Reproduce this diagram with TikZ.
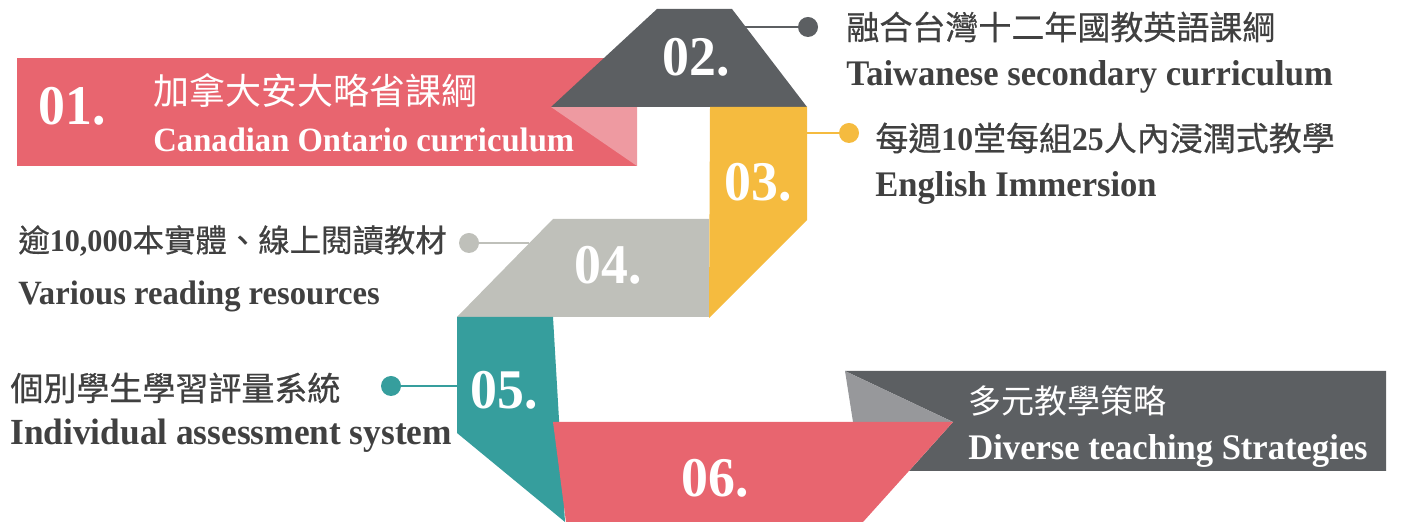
\documentclass[tikz,border=0pt]{standalone}
\usepackage{fontspec}
\usepackage{tikz}

\setmainfont{Liberation Serif}
\newfontfamily\enfont{Liberation Serif}[FakeStretch=0.96]
\newfontfamily\cjk{Noto Sans CJK TC}
\newfontfamily\cjkm{Noto Sans CJK TC}[FakeBold=0.6]
\newcommand{\dg}[1]{{\enfont\bfseries #1}}

\definecolor{ribbonred}{HTML}{E8656F}
\definecolor{ribbonpink}{HTML}{EE9AA1}
\definecolor{ribbondark}{HTML}{5C5F62}
\definecolor{ribbonyellow}{HTML}{F5BB3F}
\definecolor{ribbonlight}{HTML}{BFC0BA}
\definecolor{ribbonteal}{HTML}{369E9D}
\definecolor{foldgray}{HTML}{97989B}
\definecolor{textgray}{HTML}{404040}

\begin{document}
\begin{tikzpicture}[x=0.5pt, y=-0.5pt]
    \tikzstyle{num} = [text=white, inner sep=0pt, font=\enfont\bfseries\fontsize{28}{28}\selectfont]
    \tikzstyle{zh} = [anchor=west, inner sep=0pt, text=textgray, font=\cjkm\fontsize{16.5}{16.5}\selectfont]
    \tikzstyle{en} = [anchor=base west, inner sep=0pt, text=textgray, font=\enfont\bfseries\fontsize{18}{18}\selectfont]
    \tikzstyle{dot} = [circle, inner sep=0pt, minimum size=10pt]
    \tikzstyle{leader} = [line width=1pt]
    \useasboundingbox (0,0) rectangle (1408,522);

    % ribbon, back to front
    \fill[ribbonred] (17,58) rectangle (637,166);
    \fill[ribbonpink] (551,107) -- (637,107) -- (637,166) -- cycle;
    \fill[ribbondark] (551,107) -- (657,9) -- (732,9) -- (807,107) -- cycle;
    \fill[ribbonlight] (553,219) -- (709,219) -- (709,317) -- (457,317) -- cycle;
    \fill[ribbonyellow] (710,107) -- (807,107) -- (807,220) -- (709,318) -- cycle;
    \fill[ribbonteal] (457,317) -- (553,317) -- (565,522) -- (457,433) -- cycle;
    \fill[ribbondark] (845,371) -- (1386,371) -- (1386,471) -- (909,471) -- (953,422) -- cycle;
    \fill[foldgray] (845,371) -- (953,422) -- (853,422) -- cycle;
    \fill[ribbonred] (553,422) -- (953,422) -- (863,522) -- (566,522) -- cycle;

    % step numbers
    \node[num] (n1) at (72,106) {01.};
    \node[num] (n2) at (696,57) {02.};
    \node[num] (n3) at (758,182) {03.};
    \node[num] (n4) at (608,265) {04.};
    \node[num] (n5) at (504,390) {05.};
    \node[num] (n6) at (715,478) {06.};

    % leaders
    \coordinate (e2) at (745,27);
    \coordinate (e3) at (807,133);
    \coordinate (e4) at (529,243);
    \coordinate (e5) at (457,386);
    \node[dot, fill=ribbondark] (d2) at (808,27) {};
    \node[dot, fill=ribbonyellow] (d3) at (849,133) {};
    \node[dot, fill=ribbonlight] (d4) at (469,243) {};
    \node[dot, fill=ribbonteal] (d5) at (391,386) {};
    \draw[leader, ribbondark] (e2) -- (d2);
    \draw[leader, ribbonyellow] (e3) -- (d3);
    \draw[leader, ribbonlight] (e4) -- (d4);
    \draw[leader, ribbonteal] (e5) -- (d5);

    % labels
    \node[zh, text=white, font=\cjk\fontsize{18}{18}\selectfont] (z1) at (153,91) {加拿大安大略省課綱};
    \node[en, text=white, font=\enfont\bfseries\fontsize{17}{17}\selectfont] (l1) at (153,152) {Canadian Ontario curriculum};
    \node[zh] (z2) at (846,27) {融合台灣十二年國教英語課綱};
    \node[en] (l2) at (846,86) {Taiwanese secondary curriculum};
    \node[zh] (z3) at (875,138) {每週\dg{10}堂每組\dg{25}人內浸潤式教學};
    \node[en] (l3) at (875,197) {English Immersion};
    \node[zh, font=\cjkm\fontsize{15.7}{15.7}\selectfont] (z4) at (18,241) {逾\dg{10,000}本實體、線上閱讀教材};
    \node[en, font=\enfont\bfseries\fontsize{17}{17}\selectfont] (l4) at (18,305) {Various reading resources};
    \node[zh] (z5) at (10,388) {個別學生學習評量系統};
    \node[en, font=\enfont\bfseries\fontsize{18.4}{18.4}\selectfont] (l5) at (10,445) {Individual assessment system};
    \node[zh, text=white, font=\cjk\fontsize{16.5}{16.5}\selectfont] (z6) at (968,401) {多元教學策略};
    \node[en, text=white] (l6) at (968,460) {Diverse teaching Strategies};
\end{tikzpicture}
\end{document}
